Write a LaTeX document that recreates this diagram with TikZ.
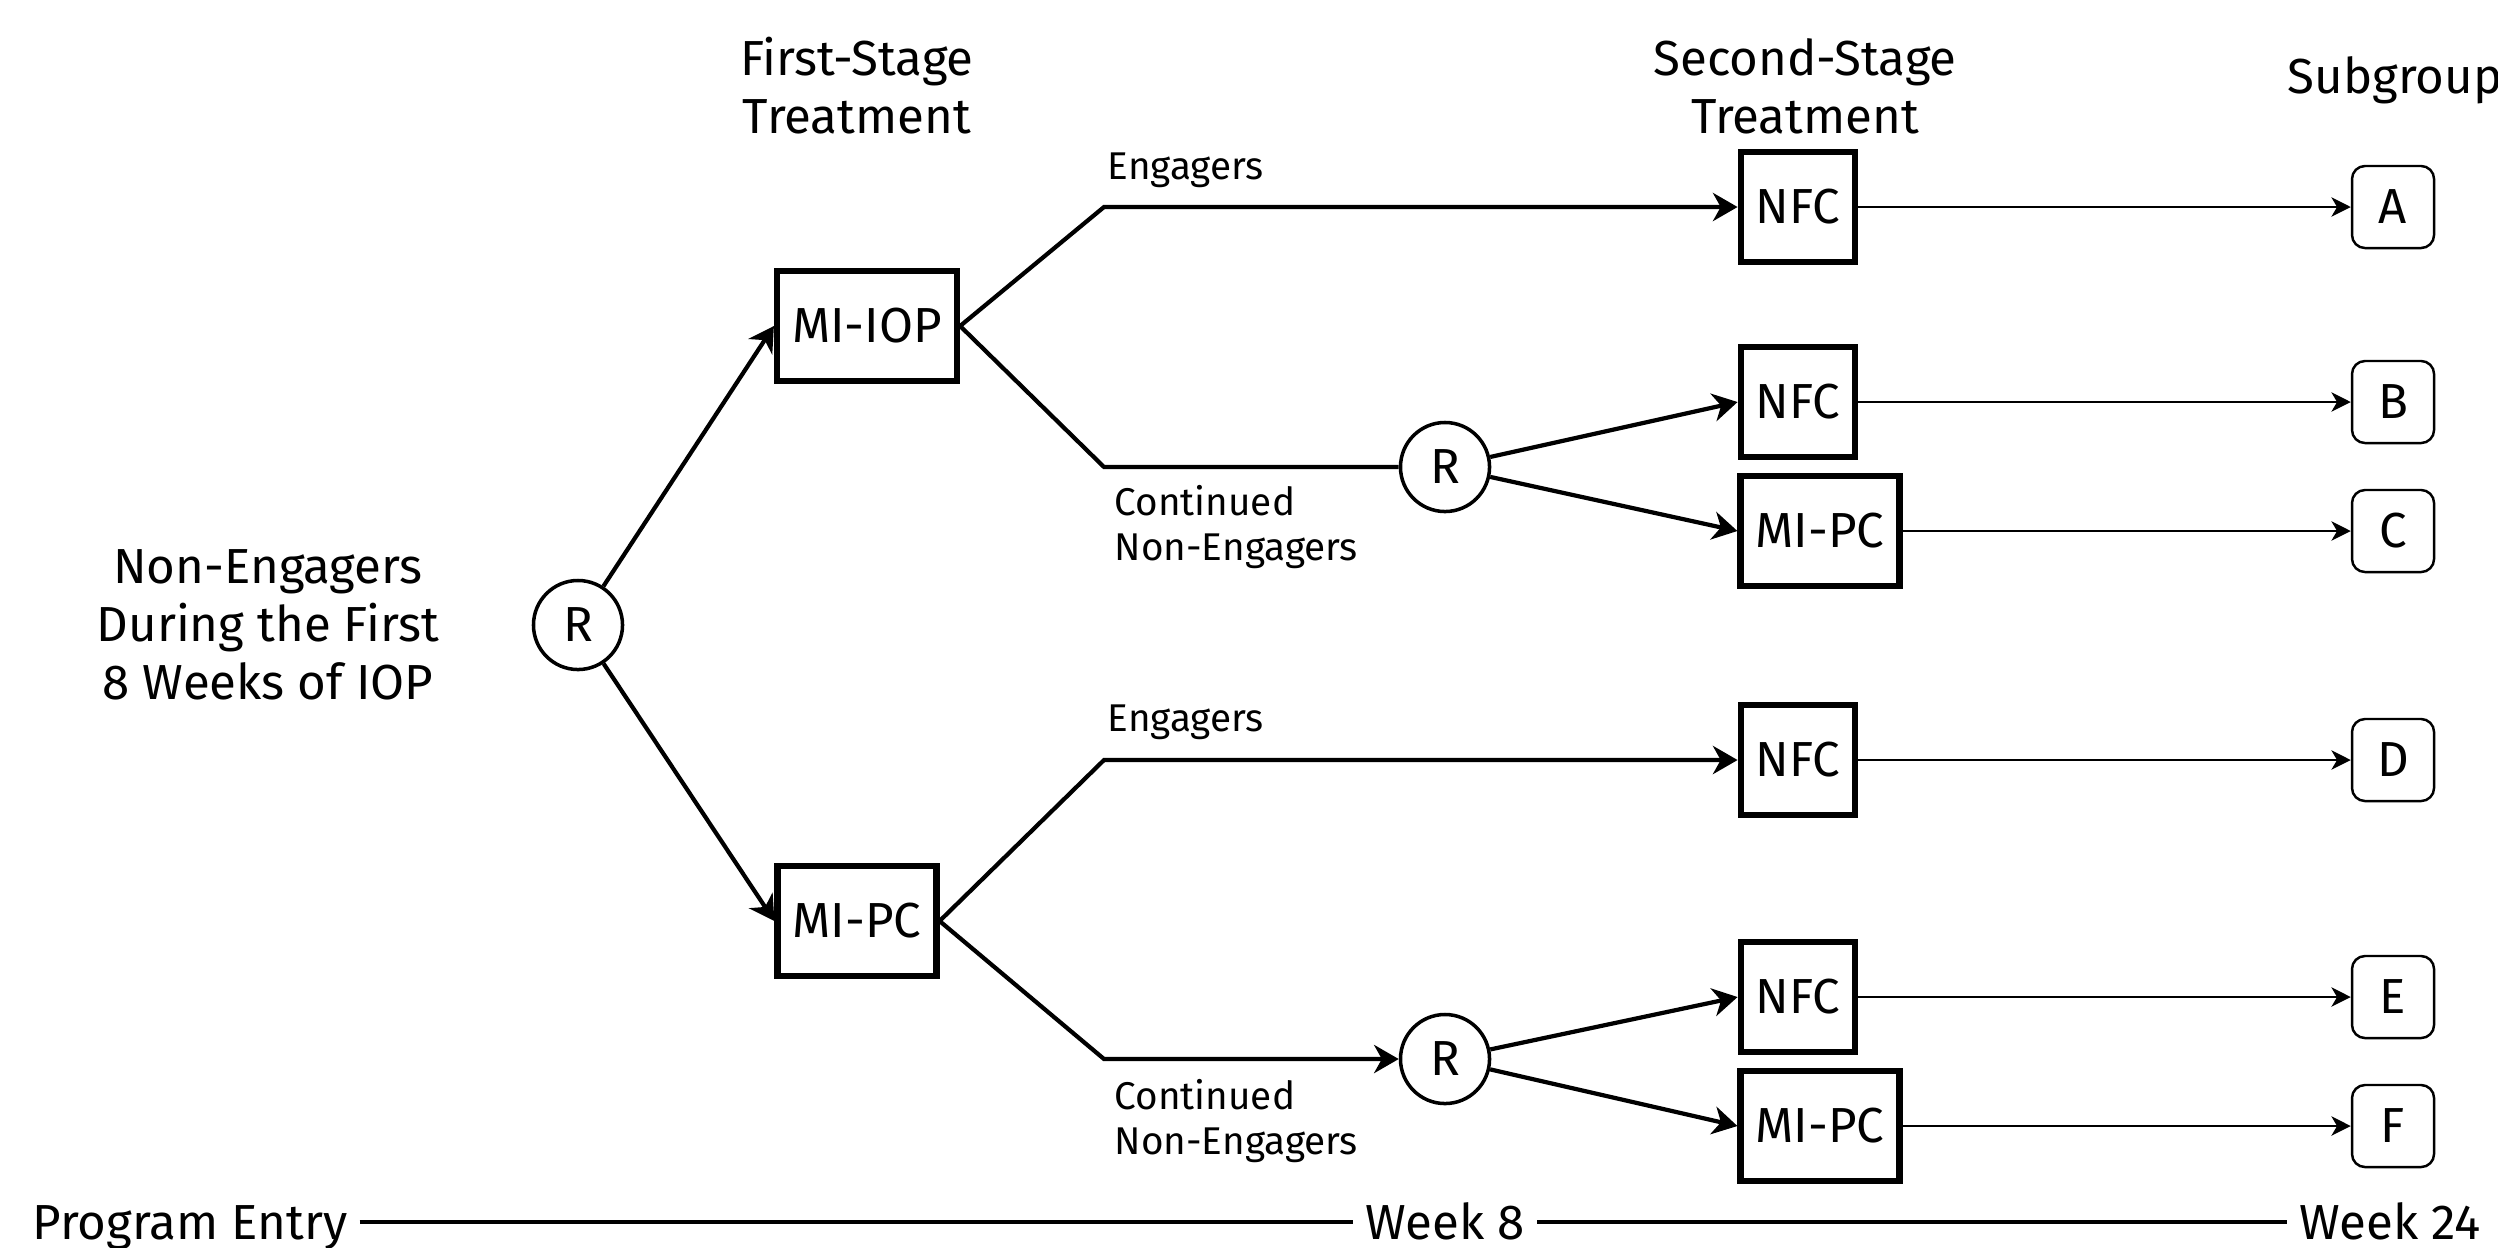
\documentclass[tikz,border=0pt]{standalone}
\usepackage{fontspec}
\setmainfont{Fira Sans}
\usetikzlibrary{positioning,arrows.meta}

\tikzset{
  big/.style={font=\fontsize{14}{16.5}\selectfont},
  small/.style={font=\fontsize{11}{13}\selectfont},
  treat/.style={big,draw,line width=1.8pt,minimum height=1.1cm,inner xsep=0.15cm},
  rand/.style={big,draw,circle,line width=1pt,minimum size=0.89cm,inner sep=0pt},
  group/.style={big,draw,rounded corners=0.13cm,line width=0.7pt,minimum size=0.82cm,inner sep=0pt},
  lbl/.style={small,align=left,anchor=west,inner sep=0pt},
  tick/.style={big,text height=12pt,text depth=2.3pt},
  flow/.style={line width=1.2pt},
  flowarr/.style={flow,-{Stealth[length=7pt,width=8pt,inset=2.2pt]}},
  thinarr/.style={line width=0.7pt,-{Stealth[length=5.5pt,width=5.5pt,inset=1.6pt]}}
}

\begin{document}
\begin{tikzpicture}[x=0.01cm,y=-0.01cm]
  \useasboundingbox (0,0) rectangle (2498,1247);

  % headers
  \node[big,align=center] (h1) at (857,86) {First-Stage\\Treatment};
  \node[big,align=center] (h2) at (1805,86) {Second-Stage\\Treatment};
  \node[big,anchor=west,inner sep=0pt] (h3) at (2287,80) {Subgroup};

  % start
  \node[big,align=center] (pop) at (268,625) {Non-Engagers\\During the First\\8 Weeks of IOP};
  \node[rand] (r0) at (578,625) {R};

  % first stage
  \node[treat] (miiop) at (867,326) {MI-IOP};
  \node[treat] (mipc) at (857,921) {MI-PC};
  \draw[flowarr] (r0) -- (miiop.west);
  \draw[flowarr] (r0) -- (mipc.west);

  % second stage
  \node[treat] (nfcA) at (1798,207) {NFC};
  \node[rand] (r1) at (1445,467) {R};
  \node[treat] (nfcB) at (1798,402) {NFC};
  \node[treat] (mipcC) at (1820,531) {MI-PC};
  \node[treat] (nfcD) at (1798,760) {NFC};
  \node[rand] (r2) at (1445,1059) {R};
  \node[treat] (nfcE) at (1798,997) {NFC};
  \node[treat] (mipcF) at (1820,1126) {MI-PC};

  \coordinate (k1) at (1104,207);
  \coordinate (k2) at (1104,467);
  \coordinate (k3) at (1104,760);
  \coordinate (k4) at (1104,1059);

  %miiop
  \draw[flowarr] (miiop.east) -- (k1) -- (nfcA);
  \draw[flow] (miiop.east) -- (k2) -- (r1);
  \node[lbl] (eng1) at (1107,170) {Engagers};
  \node[lbl] (cne1) at (1114,527) {Continued\\Non-Engagers};
  \draw[flowarr] (r1) -- (nfcB.west);
  \draw[flowarr] (r1) -- (mipcC.west);

  %mipc
  \draw[flowarr] (mipc.east) -- (k3) -- (nfcD);
  \draw[flowarr] (mipc.east) -- (k4) -- (r2);
  \node[lbl] (eng2) at (1107,722) {Engagers};
  \node[lbl] (cne2) at (1114,1121) {Continued\\Non-Engagers};
  \draw[flowarr] (r2) -- (nfcE.west);
  \draw[flowarr] (r2) -- (mipcF.west);

  % subgroups
  \node[group] (sA) at (2393,207) {A};
  \node[group] (sB) at (2393,402) {B};
  \node[group] (sC) at (2393,531) {C};
  \node[group] (sD) at (2393,760) {D};
  \node[group] (sE) at (2393,997) {E};
  \node[group] (sF) at (2393,1126) {F};
  \draw[thinarr] (nfcA) -- (sA);
  \draw[thinarr] (nfcB) -- (sB);
  \draw[thinarr] (mipcC) -- (sC);
  \draw[thinarr] (nfcD) -- (sD);
  \draw[thinarr] (nfcE) -- (sE);
  \draw[thinarr] (mipcF) -- (sF);

  % timeline
  \node[tick] (t0) at (190,1222) {Program Entry};
  \node[tick] (t1) at (1445,1222) {Week 8};
  \node[tick] (t2) at (2390,1222) {Week 24};
  \draw[flow] (t0) -- (t1);
  \draw[flow] (t1) -- (t2);
\end{tikzpicture}
\end{document}
